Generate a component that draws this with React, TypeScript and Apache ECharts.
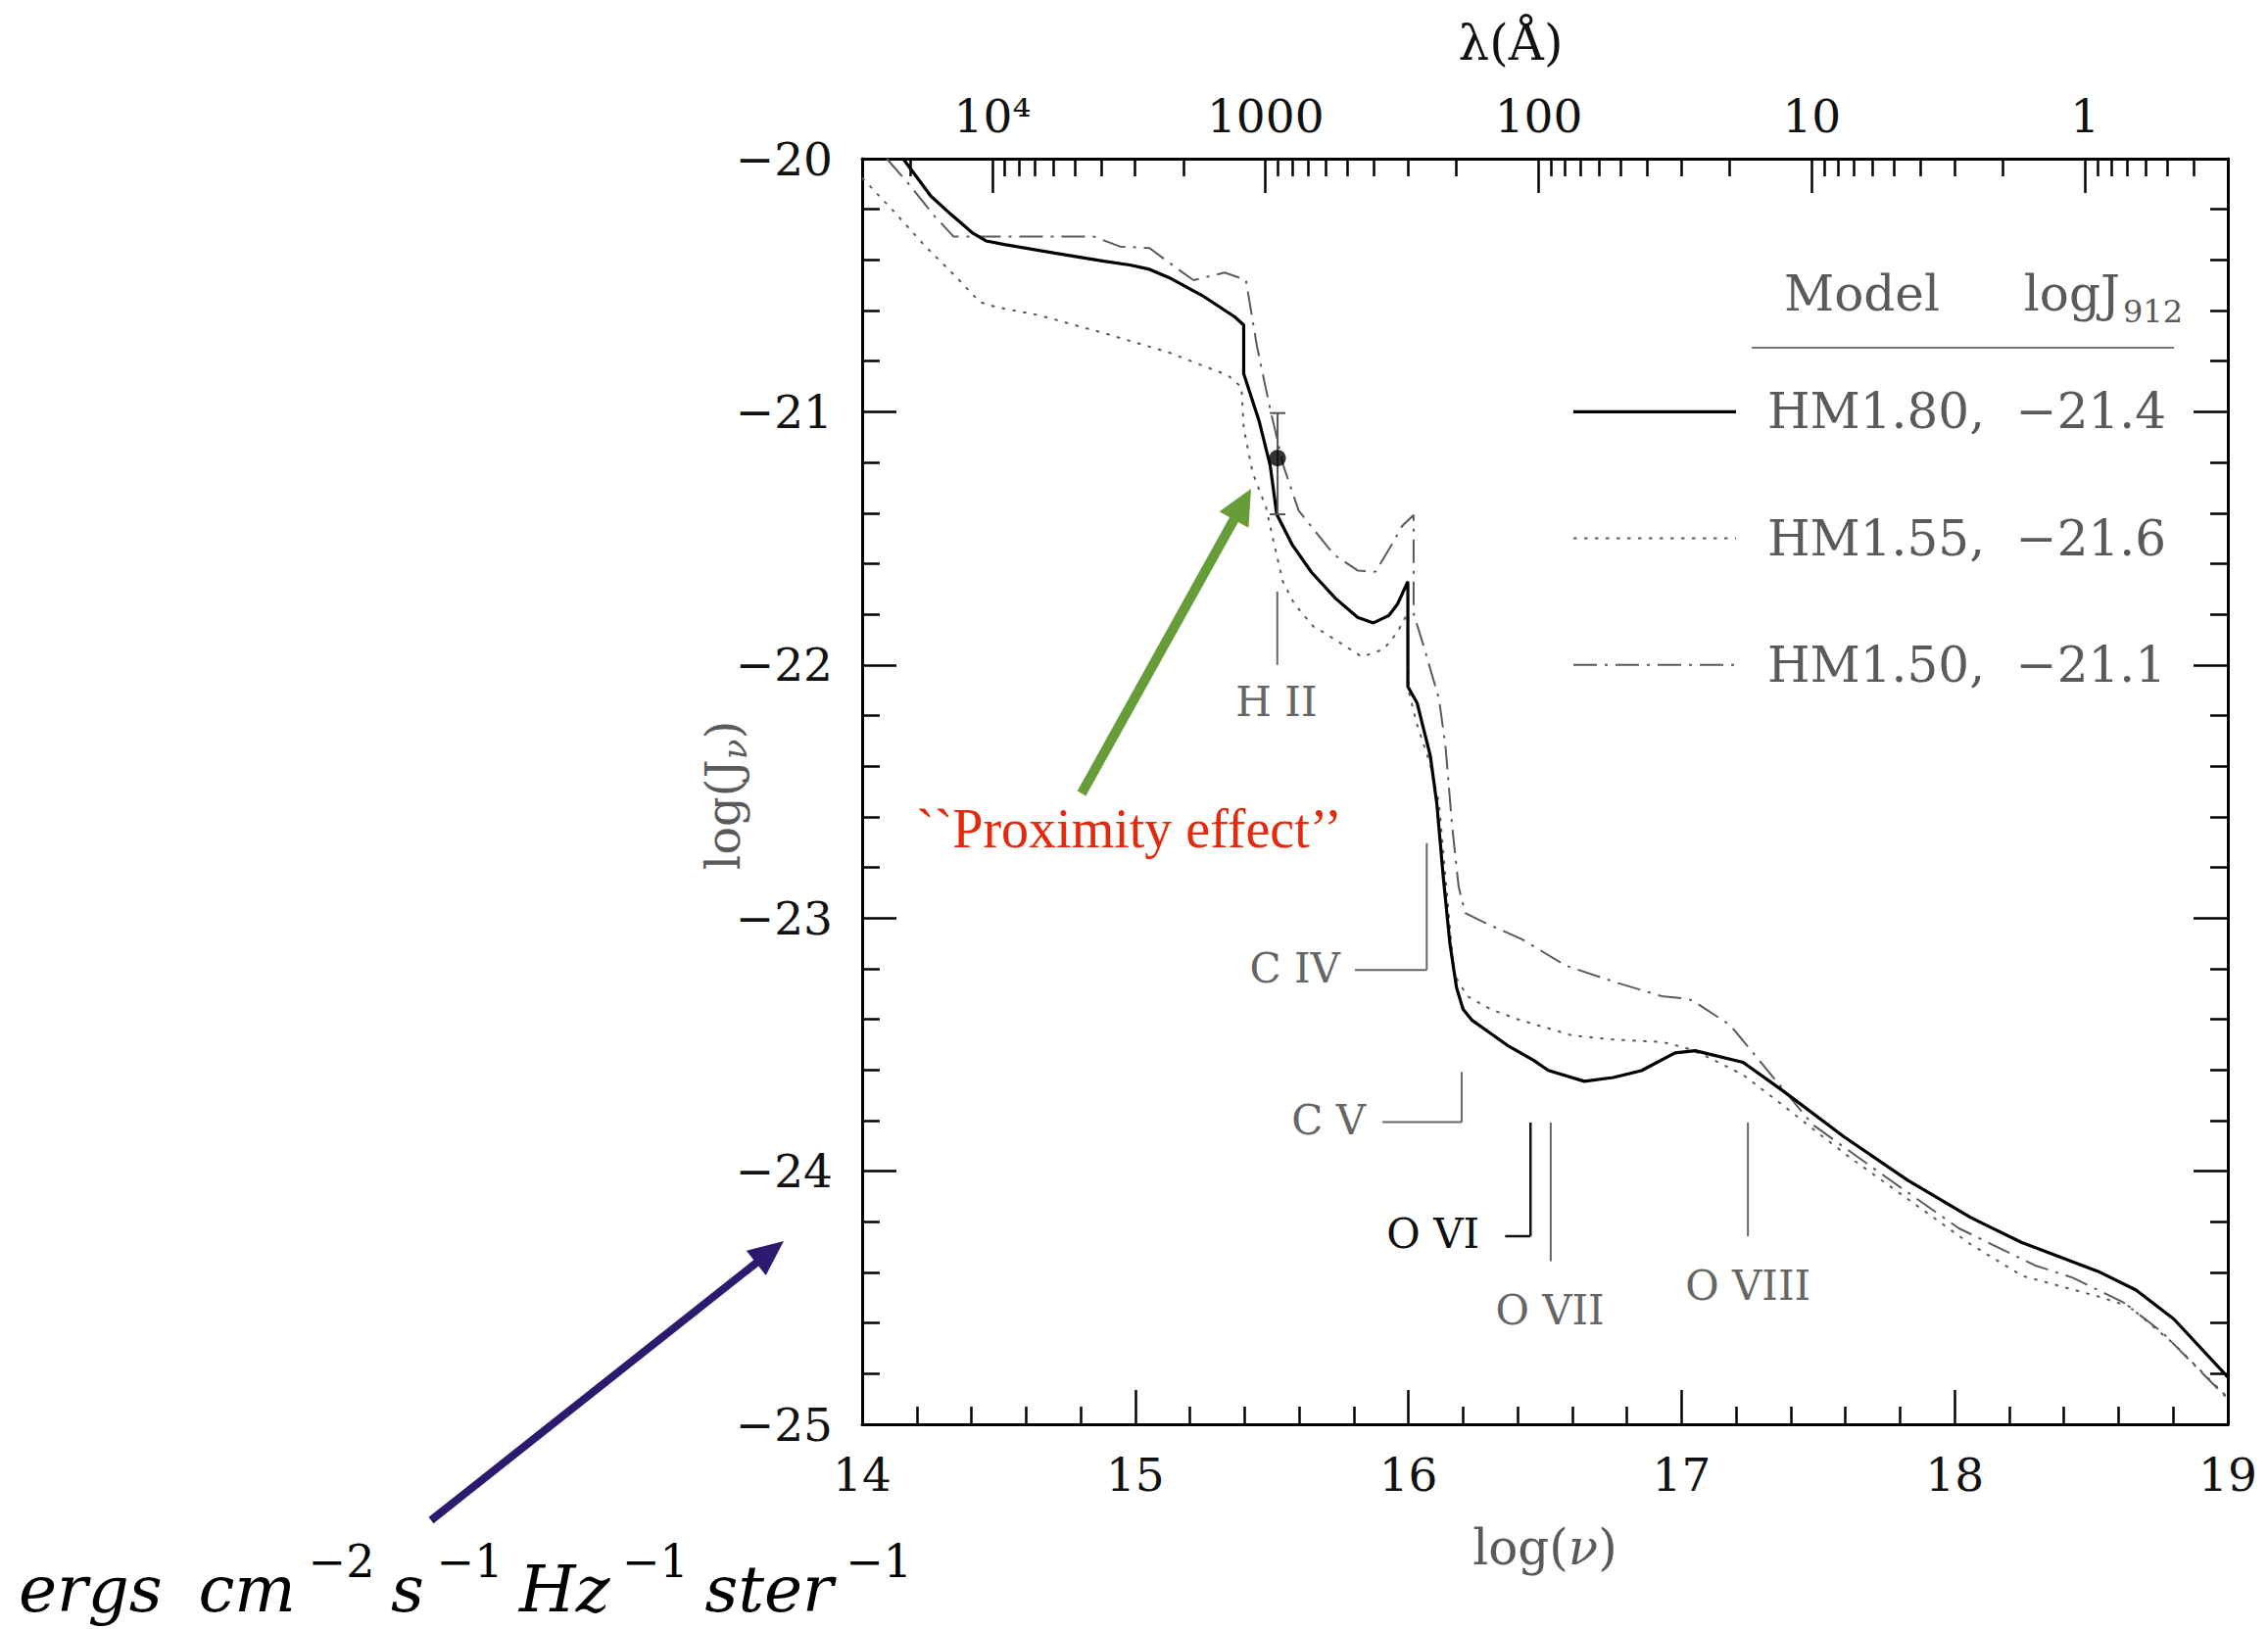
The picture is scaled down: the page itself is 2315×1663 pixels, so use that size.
import React, { useEffect, useRef } from "react";
import * as echarts from "echarts";

// ---------------- data ----------------
// HM1.80 (solid)
const nuHM180 = [14.15, 14.251, 14.323, 14.406, 14.454, 14.526, 14.705, 14.885, 14.98, 15.052, 15.124, 15.244, 15.363, 15.397, 15.397, 15.453, 15.494, 15.518, 15.574, 15.646, 15.734, 15.814, 15.872, 15.928, 15.96, 15.998, 15.998, 16.032, 16.08, 16.104, 16.128, 16.152, 16.176, 16.2, 16.232, 16.368, 16.458, 16.512, 16.644, 16.75, 16.853, 16.976, 17.05, 17.225, 17.364, 17.596, 17.828, 18.06, 18.246, 18.525, 18.664, 18.803, 19.0];
const jHM180 = [-20.0, -20.147, -20.218, -20.295, -20.325, -20.34, -20.373, -20.405, -20.42, -20.437, -20.47, -20.54, -20.624, -20.657, -20.849, -21.035, -21.212, -21.405, -21.524, -21.635, -21.738, -21.812, -21.834, -21.805, -21.76, -21.671, -22.086, -22.151, -22.358, -22.548, -22.842, -23.101, -23.274, -23.36, -23.403, -23.507, -23.562, -23.602, -23.645, -23.63, -23.603, -23.533, -23.524, -23.57, -23.677, -23.865, -24.036, -24.184, -24.282, -24.396, -24.47, -24.585, -24.814];

// HM1.55 (dotted)
const nuHM155 = [14.0, 14.108, 14.227, 14.347, 14.43, 14.49, 14.646, 14.885, 15.124, 15.339, 15.389, 15.397, 15.43, 15.478, 15.51, 15.54, 15.583, 15.653, 15.695, 15.83, 15.91, 15.96, 15.996, 16.0, 16.032, 16.08, 16.112, 16.143, 16.167, 16.216, 16.3, 16.4, 16.6, 16.75, 16.93, 17.016, 17.09, 17.225, 17.364, 17.596, 17.828, 18.06, 18.246, 18.525, 18.64, 18.803, 19.0];
const jHM155 = [-20.076, -20.199, -20.341, -20.47, -20.566, -20.586, -20.618, -20.689, -20.766, -20.856, -20.902, -21.064, -21.242, -21.375, -21.53, -21.67, -21.76, -21.849, -21.875, -21.968, -21.938, -21.87, -21.797, -22.1, -22.237, -22.393, -22.548, -22.928, -23.222, -23.309, -23.36, -23.4, -23.464, -23.48, -23.49, -23.513, -23.546, -23.619, -23.734, -23.93, -24.11, -24.29, -24.413, -24.495, -24.535, -24.683, -24.895];

// HM1.50 (dash-dot)
const nuHM150 = [14.09, 14.167, 14.263, 14.335, 14.849, 14.944, 15.052, 15.124, 15.213, 15.327, 15.405, 15.445, 15.494, 15.542, 15.598, 15.686, 15.727, 15.814, 15.879, 15.937, 15.977, 16.019, 16.019, 16.056, 16.112, 16.136, 16.16, 16.184, 16.208, 16.288, 16.416, 16.576, 16.768, 16.928, 17.009, 17.039, 17.178, 17.341, 17.48, 17.712, 18.014, 18.293, 18.432, 18.618, 18.757, 19.0];
const jHM150 = [-20.0, -20.095, -20.224, -20.308, -20.308, -20.347, -20.353, -20.411, -20.48, -20.45, -20.479, -20.738, -20.99, -21.212, -21.39, -21.509, -21.564, -21.627, -21.632, -21.529, -21.451, -21.408, -21.797, -21.926, -22.134, -22.324, -22.635, -22.877, -22.98, -23.023, -23.084, -23.188, -23.257, -23.309, -23.318, -23.325, -23.423, -23.636, -23.816, -23.996, -24.225, -24.372, -24.421, -24.519, -24.634, -24.9];

// measured point with error bar (proximity effect)
const pointNu = [15.521];
const pointJ = [-21.183];
const pointErrLow = [-21.405];
const pointErrHigh = [-21.005];

// ion edge markers
const ionLabels = ["H II", "C IV", "C V", "O VI", "O VII", "O VIII"];
const ionNu = [15.52, 16.067, 16.195, 16.447, 16.521, 17.243];
const ionTop = [-21.71, -22.704, -23.608, -23.808, -23.808, -23.808];
const ionBottom = [-22.0, -23.205, -23.806, -24.257, -24.356, -24.257];
const ionHook: (number | null)[] = [null, 15.804, 15.905, 16.354, null, null];
const ionLabelNu = [15.517, 15.75, 15.844, 16.26, 16.518, 17.243];
const ionLabelJ = [-22.144, -23.197, -23.8, -24.249, -24.551, -24.454];
const ionLabelAlign = ["center", "right", "right", "right", "center", "center"];
const ionColor = ["#666", "#666", "#666", "#111", "#666", "#666"];

// legend
const legendNames = ["HM1.80,  \u221221.4", "HM1.55,  \u221221.6", "HM1.50,  \u221221.1"];
const legendRowJ = [-21.0, -21.5, -22.0];

// units annotation pieces: [text, superscript?]
const unitPieces: [string, boolean][] = [["ergs", false], ["cm", false], ["\u22122", true], ["s", false], ["\u22121", true], ["Hz", false], ["\u22121", true], ["ster", false], ["\u22121", true]];

// axes
const xTicks = { min: 14, max: 19, interval: 1 };
const yTicks = { min: -25, max: -20, interval: 1 };
const LOG_C_ANGSTROM = Math.log10(2.998e18);
const lambdaMajor = [1e4, 1000, 100, 10, 1];
const lambdaMajorLabels = ["10\u2074", "1000", "100", "10", "1"];
const lambdaMantissa = [2, 3, 4, 5, 6, 7, 8, 9];
const lambdaDecades = [-1, 0, 1, 2, 3, 4];

// ---------------- helpers ----------------
const toNu = (lam: number) => LOG_C_ANGSTROM - Math.log10(lam);
const lambdaMajorNu = lambdaMajor.map(toNu);
const lambdaMinorNu: number[] = [];
lambdaDecades.forEach((d) =>
  lambdaMantissa.forEach((m) => {
    const v = toNu(m * Math.pow(10, d));
    if (v >= 14 - 1e-9 && v <= 19 + 1e-9) lambdaMinorNu.push(v);
  })
);
const zip = (a: number[], b: number[]) => a.map((v, i) => [v, b[i]]);

const GRID = { left: 880, top: 162, width: 1394, height: 1292 };
const py = (j: number) => GRID.top + ((yTicks.max - j) / (yTicks.max - yTicks.min)) * GRID.height;

const SERIF = '"DejaVu Serif", serif';
const TIMES = '"Liberation Serif", serif';
const GRAY = "#5a5a5a";

const DOT = [3.5, 7.5];
const DASHDOT = [24, 8, 3, 8];

let measureCtx: CanvasRenderingContext2D | null = null;
function measure(text: string, size: number, family: string, style = "normal") {
  if (!measureCtx) measureCtx = document.createElement("canvas").getContext("2d");
  measureCtx!.font = `${style} ${size}px ${family}`;
  return measureCtx!.measureText(text).width;
}

function arrow(x1: number, y1: number, x2: number, y2: number, color: string, width: number, headLen: number, headHalf: number) {
  const dx = x2 - x1, dy = y2 - y1;
  const len = Math.sqrt(dx * dx + dy * dy);
  const ux = dx / len, uy = dy / len;
  const nx = -uy, ny = ux;
  const bx = x2 - ux * headLen, by = y2 - uy * headLen;
  return [
    { type: "line", shape: { x1, y1, x2: bx + ux * 2, y2: by + uy * 2 }, style: { stroke: color, lineWidth: width, lineCap: "butt" }, z: 50 },
    { type: "polygon", shape: { points: [[x2, y2], [bx + nx * headHalf, by + ny * headHalf], [bx - nx * headHalf, by - ny * headHalf]] }, style: { fill: color }, z: 50 },
  ];
}

// pieces of a horizontally chained text: [text, size, italic, dy]
function chain(pieces: [string, number, boolean, number][], family: string, fill: string) {
  const widths = pieces.map(([t, s, it]) => measure(t, s, family, it ? "italic" : "normal"));
  const total = widths.reduce((a, b) => a + b, 0);
  let x = -total / 2;
  return pieces.map(([t, s, it, dy], i) => {
    const el = { type: "text", x, y: dy, style: { text: t, fill, fontFamily: family, fontStyle: it ? "italic" : "normal", fontSize: s, align: "left", verticalAlign: "middle" } };
    x += widths[i];
    return el;
  });
}

function buildOption() {
  const axisLine = { show: true, onZero: false, lineStyle: { color: "#000", width: 3 } };
  const tickStyle = { color: "#000", width: 2.5 };
  const labelStyle = { color: "#111", fontFamily: SERIF, fontSize: 47 };

  const graphic: any[] = [];
  // top axis title
  graphic.push({ type: "text", x: 1542, y: 44, style: { text: "\u03bb(\u00c5)", fill: "#111", fontFamily: SERIF, fontSize: 50, align: "center", verticalAlign: "middle" } });
  // x axis title
  graphic.push({
    type: "group", x: 1577, y: 1580,
    children: chain([["log(", 50, false, 0], ["\u03bd", 50, true, 0], [")", 50, false, 0]], SERIF, GRAY),
  });
  // y axis title (rotated)
  graphic.push({
    type: "group", x: 738, y: 812, rotation: Math.PI / 2,
    children: chain([["log(J", 48, false, 0], ["\u03bd", 34, true, 12], [")", 48, false, 0]], SERIF, GRAY),
  });
  // legend header
  graphic.push({ type: "text", x: 1821, y: 300, style: { text: "Model", fill: GRAY, fontFamily: SERIF, fontSize: 50, align: "left", verticalAlign: "middle" } });
  graphic.push({ type: "text", x: 2164, y: 300, style: { text: "logJ", fill: GRAY, fontFamily: SERIF, fontSize: 50, align: "right", verticalAlign: "middle" } });
  graphic.push({ type: "text", x: 2167, y: 318, style: { text: "912", fill: GRAY, fontFamily: SERIF, fontSize: 32, align: "left", verticalAlign: "middle" } });
  graphic.push({ type: "line", shape: { x1: 1788, y1: 355, x2: 2219, y2: 355 }, style: { stroke: "#777", lineWidth: 2 } });
  // legend rows
  const legendStyles = [
    { stroke: "#000", lineWidth: 3.2 },
    { stroke: GRAY, lineWidth: 2, lineDash: DOT },
    { stroke: GRAY, lineWidth: 2, lineDash: DASHDOT },
  ];
  legendNames.forEach((name, i) => {
    const y = py(legendRowJ[i]);
    graphic.push({ type: "line", shape: { x1: 1606, y1: y, x2: 1772, y2: y }, style: legendStyles[i] });
    graphic.push({ type: "text", x: 1804, y, style: { text: name, fill: GRAY, fontFamily: SERIF, fontSize: 50, align: "left", verticalAlign: "middle" } });
  });
  // proximity effect annotation
  graphic.push({ type: "text", x: 935, y: 846, style: { text: "``Proximity effect\u2019\u2019", fill: "#e5290c", fontFamily: TIMES, fontSize: 56, align: "left", verticalAlign: "middle" }, z: 50 });
  graphic.push(...arrow(1104, 810, 1277, 499, "#679d38", 10, 36, 17));
  // units annotation (chained pieces, stretched to the reference extent 19..931)
  graphic.push(...arrow(440, 1552, 800, 1267, "#2b1a6e", 8, 36, 16));
  {
    const mainSize = 66, supSize = 46;
    const left = 19, right = 931;
    const widths = unitPieces.map(([t, sup]) => measure(t, sup ? supSize : mainSize, SERIF, sup ? "normal" : "italic"));
    const baseGaps = unitPieces.map(([, sup], i) => (i === 0 ? 0 : i === 1 ? 30 : sup ? 6 : unitPieces[i - 1][1] ? 10 : 6));
    const natural = widths.reduce((a, b) => a + b, 0) + baseGaps.reduce((a, b) => a + b, 0);
    const extra = Math.max(0, (right - left - natural) / (unitPieces.length - 1));
    let x = left;
    unitPieces.forEach(([t, sup], i) => {
      if (i > 0) x += baseGaps[i] + extra;
      const size = sup ? supSize : mainSize;
      graphic.push({
        type: "text", x, y: sup ? 1594 : 1622,
        style: { text: t, fill: "#000", fontFamily: SERIF, fontStyle: sup ? "normal" : "italic", fontSize: size, align: "left", verticalAlign: "middle" },
      });
      x += widths[i];
    });
  }

  return {
    animation: false,
    backgroundColor: "#fff",
    grid: { ...GRID, containLabel: false, outerBoundsMode: "none" },
    xAxis: [
      {
        type: "value", position: "bottom", min: xTicks.min, max: xTicks.max, interval: xTicks.interval,
        axisLine, axisTick: { show: true, inside: true, length: 35, lineStyle: tickStyle },
        minorTick: { show: true, splitNumber: 5, length: 18, lineStyle: tickStyle },
        axisLabel: { ...labelStyle, margin: 28 },
        splitLine: { show: false }, minorSplitLine: { show: false },
      },
      {
        type: "value", position: "top", min: xTicks.min, max: xTicks.max,
        axisLine, axisTick: { show: true, inside: true, length: 35, lineStyle: tickStyle, customValues: lambdaMajorNu },
        axisLabel: {
          ...labelStyle, margin: 20, customValues: lambdaMajorNu,
          formatter: (v: number) => {
            const i = lambdaMajorNu.findIndex((p) => Math.abs(p - v) < 1e-6);
            return i >= 0 ? lambdaMajorLabels[i] : "";
          },
        },
        splitLine: { show: false },
      },
      {
        type: "value", position: "top", min: xTicks.min, max: xTicks.max,
        axisLine: { show: false, onZero: false },
        axisTick: { show: true, inside: true, length: 18, lineStyle: tickStyle, customValues: lambdaMinorNu },
        axisLabel: { show: false }, splitLine: { show: false },
      },
    ],
    yAxis: [
      {
        type: "value", position: "left", min: yTicks.min, max: yTicks.max, interval: yTicks.interval,
        axisLine, axisTick: { show: true, inside: true, length: 35, lineStyle: tickStyle },
        minorTick: { show: true, splitNumber: 5, length: 18, lineStyle: tickStyle },
        axisLabel: { ...labelStyle, margin: 30, formatter: (v: number) => (v < 0 ? "\u2212" + Math.abs(v) : String(v)) },
        splitLine: { show: false }, minorSplitLine: { show: false },
      },
      {
        type: "value", position: "right", min: yTicks.min, max: yTicks.max, interval: yTicks.interval,
        axisLine, axisTick: { show: true, inside: true, length: 35, lineStyle: tickStyle },
        minorTick: { show: true, splitNumber: 5, length: 18, lineStyle: tickStyle },
        axisLabel: { show: false }, splitLine: { show: false }, minorSplitLine: { show: false },
      },
    ],
    series: [
      {
        type: "custom", name: "ions", xAxisIndex: 0, yAxisIndex: 0, silent: true, z: 1,
        data: ionNu.map((n, i) => [n, ionBottom[i]]),
        renderItem: (params: any, api: any) => {
          const i = params.dataIndex;
          const top = api.coord([ionNu[i], ionTop[i]]);
          const bot = api.coord([ionNu[i], ionBottom[i]]);
          const color = ionColor[i];
          const lw = i === 3 ? 2.5 : 2;
          const children: any[] = [
            { type: "line", shape: { x1: top[0], y1: top[1], x2: bot[0], y2: bot[1] }, style: { stroke: color, lineWidth: lw } },
          ];
          const hook = ionHook[i];
          if (hook !== null) {
            const h = api.coord([hook, ionBottom[i]]);
            children.push({ type: "line", shape: { x1: bot[0], y1: bot[1], x2: h[0], y2: h[1] }, style: { stroke: color, lineWidth: lw } });
          }
          const lab = api.coord([ionLabelNu[i], ionLabelJ[i]]);
          children.push({
            type: "text", x: lab[0], y: lab[1],
            style: { text: ionLabels[i], fill: color, fontFamily: SERIF, fontSize: 42, align: ionLabelAlign[i], verticalAlign: "middle" },
          });
          return { type: "group", children };
        },
      },
      {
        type: "line", name: "HM1.55", data: zip(nuHM155, jHM155), symbol: "none", z: 3, silent: true,
        lineStyle: { color: GRAY, width: 2, type: DOT },
      },
      {
        type: "line", name: "HM1.50", data: zip(nuHM150, jHM150), symbol: "none", z: 3, silent: true,
        lineStyle: { color: GRAY, width: 2, type: DASHDOT },
      },
      {
        type: "line", name: "HM1.80", data: zip(nuHM180, jHM180), symbol: "none", z: 4, silent: true,
        lineStyle: { color: "#000", width: 3.2 },
      },
      {
        type: "custom", name: "errorbar", silent: true, z: 5,
        data: pointNu.map((n, i) => [n, pointErrLow[i], pointErrHigh[i]]),
        renderItem: (params: any, api: any) => {
          const lo = api.coord([api.value(0), api.value(1)]);
          const hi = api.coord([api.value(0), api.value(2)]);
          const st = { stroke: "#555", lineWidth: 2 };
          return {
            type: "group",
            children: [
              { type: "line", shape: { x1: lo[0], y1: lo[1], x2: hi[0], y2: hi[1] }, style: st },
              { type: "line", shape: { x1: lo[0] - 8, y1: lo[1], x2: lo[0] + 8, y2: lo[1] }, style: st },
              { type: "line", shape: { x1: hi[0] - 8, y1: hi[1], x2: hi[0] + 8, y2: hi[1] }, style: st },
            ],
          };
        },
      },
      {
        type: "scatter", name: "point", data: zip(pointNu, pointJ), symbol: "circle", symbolSize: 17, z: 6, silent: true,
        itemStyle: { color: "#000" },
      },
    ],
    graphic,
  };
}

export default function App() {
  const ref = useRef<HTMLDivElement>(null);
  useEffect(() => {
    document.body.style.margin = "0";
    const chart = echarts.init(ref.current!, null, { renderer: "svg", width: 2315, height: 1663 });
    chart.setOption(buildOption() as any);
    return () => chart.dispose();
  }, []);
  return <div ref={ref} style={{ position: "fixed", left: 0, top: 0, width: 2315, height: 1663, background: "#fff" }} />;
}
